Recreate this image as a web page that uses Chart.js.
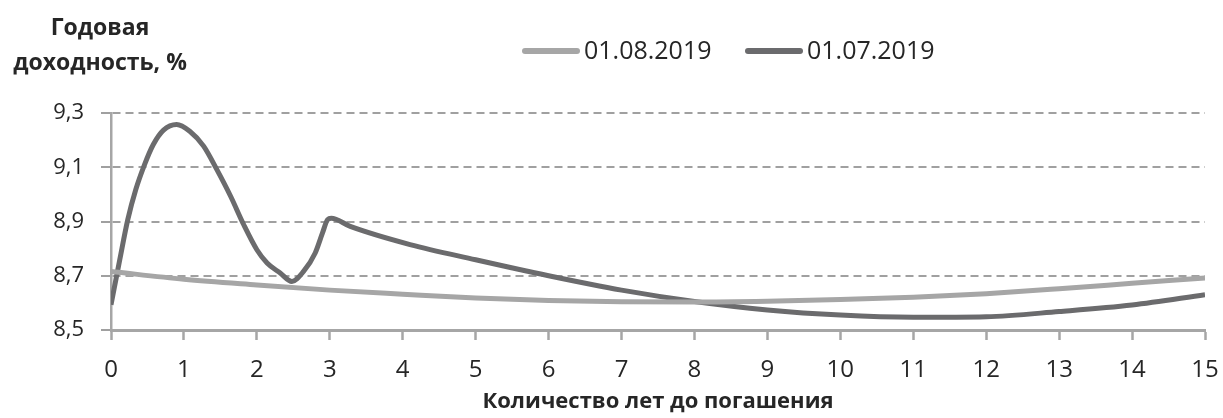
<!DOCTYPE html>
<html>
<head>
<meta charset="utf-8">
<script src="https://cdn.jsdelivr.net/npm/chart.js@4/dist/chart.umd.min.js"></script>
<style>
  html, body { margin: 0; padding: 0; background: #fff; }
  #wrap { width: 1223px; height: 418px; position: relative; }
</style>
</head>
<body>
<div id="wrap"><canvas id="yieldChart" width="1223" height="418"></canvas></div>
<script>
// series labels
const seriesNames = ['01.08.2019', '01.07.2019'];

// 01.08.2019 curve
const yearsAug = [0, 1, 2, 3, 4, 5, 6, 7, 8, 9, 10, 11, 12, 13, 14, 15];
const yieldAug = [8.716, 8.687, 8.666, 8.647, 8.632, 8.618, 8.609, 8.604, 8.603, 8.606, 8.612, 8.621, 8.634, 8.652, 8.672, 8.692];

// 01.07.2019 curve
const yearsJul = [0, 0.12, 0.23, 0.34, 0.46, 0.58, 0.72, 0.9, 1.08, 1.27, 1.45, 1.64, 1.82, 2, 2.14, 2.32, 2.48, 2.64, 2.8, 2.9, 2.97, 3.02, 3.28, 4.1, 5, 6, 7, 8, 9, 10, 11, 12, 13, 14, 15];
const yieldJul = [8.593, 8.759, 8.907, 9.018, 9.11, 9.184, 9.237, 9.258, 9.233, 9.178, 9.092, 8.993, 8.888, 8.796, 8.747, 8.71, 8.679, 8.716, 8.784, 8.858, 8.907, 8.912, 8.882, 8.815, 8.759, 8.7, 8.647, 8.605, 8.574, 8.555, 8.547, 8.549, 8.568, 8.592, 8.63];

const yTicks = [8.5, 8.7, 8.9, 9.1, 9.3];
const xTicks = [0, 1, 2, 3, 4, 5, 6, 7, 8, 9, 10, 11, 12, 13, 14, 15];

const yTitle = ['Годовая', 'доходность, %'];
const xTitle = 'Количество лет до погашения';

const toPoints = (xs, ys) => xs.map((x, i) => ({ x: x, y: ys[i] }));

Chart.defaults.font.family = '"Open Sans", "Noto Sans", sans-serif';
Chart.defaults.color = '#262626';

// y title at the top left and the legend, drawn on the canvas
const overlay = {
    id: 'overlay',
    afterDraw(chart) {
        const ctx = chart.ctx;
        ctx.save();
        ctx.fillStyle = '#262626';
        ctx.font = 'bold 23px "Open Sans", sans-serif';
        ctx.textAlign = 'center';
        ctx.textBaseline = 'alphabetic';
        ctx.fillText(yTitle[0], 100, 35);
        ctx.fillText(yTitle[1], 100, 70);

        const starts = [522, 745];
        ctx.font = '25px "Open Sans", sans-serif';
        ctx.textAlign = 'left';
        chart.data.datasets.forEach((ds, i) => {
            const x = starts[i];
            ctx.strokeStyle = ds.borderColor;
            ctx.lineWidth = 6;
            ctx.lineCap = 'round';
            ctx.beginPath();
            ctx.moveTo(x + 3, 51);
            ctx.lineTo(x + 55, 51);
            ctx.stroke();
            ctx.fillText(ds.label, x + 62, 59);
        });
        ctx.restore();
    }
};

const ctx = document.getElementById('yieldChart').getContext('2d');
new Chart(ctx, {
    type: 'line',
    data: {
        datasets: [{
            label: seriesNames[0],
            data: toPoints(yearsAug, yieldAug),
            borderColor: '#a6a6a6',
            borderWidth: 5,
            pointRadius: 0,
            cubicInterpolationMode: 'monotone',
            fill: false
        }, {
            label: seriesNames[1],
            data: toPoints(yearsJul, yieldJul),
            borderColor: '#6b6b6d',
            borderWidth: 5,
            pointRadius: 0,
            cubicInterpolationMode: 'monotone',
            fill: false
        }]
    },
    options: {
        responsive: false,
        animation: false,
        layout: { padding: { top: 113, right: 0, left: 0, bottom: 0 } },
        plugins: {
            legend: { display: false },
            title: { display: false },
            tooltip: { enabled: false }
        },
        scales: {
            x: {
                type: 'linear',
                min: 0,
                max: 15,
                afterFit: (s) => { s.height = 88; s.paddingRight = 18; },
                afterBuildTicks: (s) => { s.ticks = xTicks.map(v => ({ value: v })); },
                ticks: {
                    font: { size: 24 },
                    padding: 16,
                    maxRotation: 0,
                    autoSkip: false
                },
                grid: {
                    drawOnChartArea: false,
                    drawTicks: true,
                    tickLength: 10,
                    tickWidth: 2.5,
                    tickColor: '#a6a6a6',
                    color: '#a6a6a6'
                },
                border: { display: true, color: '#a6a6a6', width: 3 },
                title: {
                    display: true,
                    text: xTitle,
                    font: { size: 22, weight: 'bold' },
                    padding: { top: 4, bottom: 3 }
                }
            },
            y: {
                min: 8.5,
                max: 9.3,
                afterFit: (s) => { s.width = 111; },
                afterBuildTicks: (s) => { s.ticks = yTicks.map(v => ({ value: v })); },
                ticks: {
                    font: { size: 22 },
                    padding: 17,
                    callback: (v) => v.toFixed(1).replace('.', ',')
                },
                grid: {
                    color: '#a0a0a0',
                    lineWidth: 2,
                    tickLength: 10,
                    tickWidth: 2,
                    tickColor: '#a0a0a0'
                },
                border: { display: true, color: '#a6a6a6', width: 2.5, dash: [8, 5] }
            }
        }
    },
    plugins: [overlay]
});
</script>
</body>
</html>
